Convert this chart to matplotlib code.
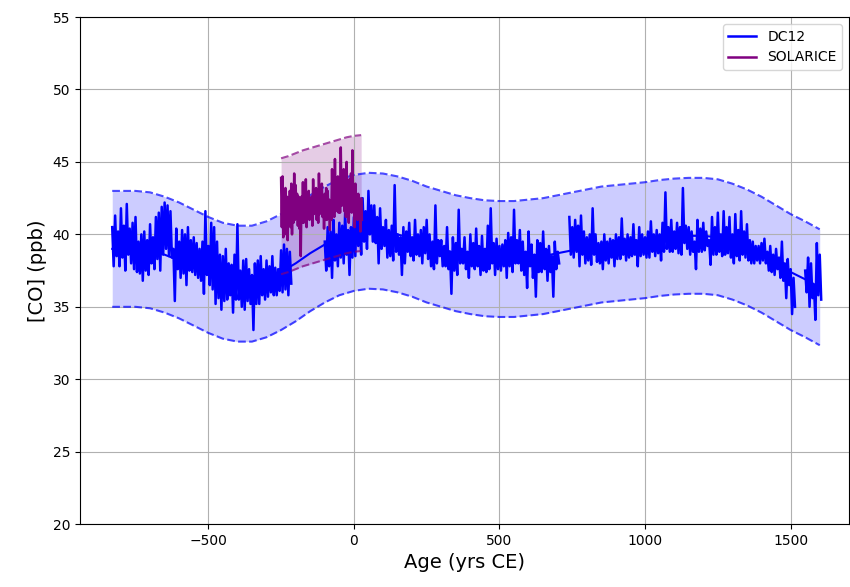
import numpy as np
import matplotlib
matplotlib.use("Agg")
import matplotlib.pyplot as plt

nan = np.nan

# DC12 record: upper / lower value within each decade, from -830 CE
dc12_years = np.arange(-830, 1601, 10)
dc12_hi = [
    40.5, 41.3, 40.2, 41.8, 40.6, 42.1, 40.4, 40.8, 41.2, 39.5,   # -830
    40.0, 40.2, 39.6, 40.7, 39.8, 41.2, 41.5, 41.9, 42.2, 42.0,   # -730
    41.6, 39.0, 40.4, 39.5, 40.3, 40.0, 40.5, 39.6, 39.8, 39.4,   # -630
    39.0, 39.5, 41.6, 39.2, 40.8, 40.5, 39.5, 38.6, 38.5, 39.0,   # -530
    38.0, 37.9, 38.6, 40.7, 37.5, 38.2, 38.3, 37.6, 37.2, 38.0,   # -430
    38.2, 38.5, 37.6, 38.2, 37.8, 38.5, 37.7, 37.6, 38.9, 39.3,   # -330
    39.0, 38.8, nan, nan, nan, nan, nan, nan, nan, nan,           # -230
    nan, nan, nan, 39.5, 40.5, 40.2, 41.0, 40.0, 40.8, 40.6,      # -130
    41.5, 40.3, 40.5, 41.2, 42.0, 41.0, 42.5, 41.6, 43.0, 42.0,   # -30
    42.0, 41.2, 41.8, 40.5, 41.0, 40.3, 40.6, 43.4, 40.0, 39.8,   # 70
    40.5, 40.2, 40.8, 39.8, 41.0, 40.0, 40.3, 40.5, 41.0, 40.0,   # 170
    39.5, 42.0, 39.6, 39.6, 39.2, 40.5, 38.8, 39.8, 39.4, 41.7,   # 270
    39.0, 39.8, 38.8, 40.0, 39.4, 40.4, 39.2, 39.9, 39.0, 40.6,   # 370
    41.8, 39.4, 39.7, 39.2, 39.3, 39.6, 40.1, 39.8, 41.7, 39.6,   # 470
    40.3, 39.5, 38.8, 40.2, 39.3, 38.6, 39.6, 39.4, 40.2, 39.0,   # 570
    39.2, 38.5, 39.5, 38.8, nan, nan, nan, 41.2, 40.5, 41.0,      # 670
    40.6, 41.3, 40.2, 39.8, 40.0, 41.8, 40.0, 39.4, 39.5, 40.0,   # 770
    39.5, 39.7, 39.6, 40.0, 39.8, 41.1, 39.7, 40.0, 39.8, 40.7,   # 870
    39.6, 40.5, 40.0, 39.8, 40.2, 40.9, 40.0, 40.3, 40.0, 40.8,   # 970
    42.9, 40.5, 41.0, 40.2, 40.8, 40.5, 43.2, 40.6, 40.5, 40.2,   # 1070
    39.5, 41.0, 40.4, 40.8, 40.2, 39.6, 41.2, 40.5, 41.5, 40.0,   # 1170
    41.6, 40.5, 41.2, 40.0, 41.4, 40.3, 41.6, 40.2, 40.7, 39.6,   # 1270
    39.5, 39.2, 39.2, 39.4, 39.7, 38.8, 39.2, 38.6, 39.0, 38.4,   # 1370
    39.5, 38.0, 38.3, 37.6, 37.0, nan, nan, nan, 37.5, 38.4,      # 1470
    38.0, 36.5, 39.4, 38.6,                                       # 1570
]
dc12_lo = [
    37.8, 38.5, 37.8, 38.4, 37.5, 38.6, 38.0, 37.6, 37.4, 37.3,   # -830
    36.8, 37.5, 37.2, 38.0, 37.6, 38.3, 37.5, 38.6, 39.0, 38.5,   # -730
    38.4, 35.4, 37.6, 37.0, 37.3, 36.5, 37.5, 37.4, 37.2, 37.0,   # -630
    36.8, 35.9, 37.2, 36.5, 36.2, 35.2, 35.6, 34.8, 35.4, 35.5,   # -530
    35.8, 34.6, 35.5, 35.5, 35.0, 34.8, 35.4, 35.2, 33.4, 35.2,   # -430
    35.2, 35.8, 35.5, 35.7, 36.0, 35.8, 35.8, 36.1, 36.0, 36.2,   # -330
    35.8, 36.6, nan, nan, nan, nan, nan, nan, nan, nan,           # -230
    nan, nan, nan, 37.5, 37.8, 37.0, 38.2, 37.8, 38.4, 38.0,      # -130
    38.6, 37.2, 38.4, 38.5, 39.2, 38.6, 39.5, 39.0, 40.0, 39.5,   # -30
    39.4, 38.0, 39.0, 39.2, 38.4, 38.5, 38.2, 38.8, 38.6, 37.2,   # 70
    38.0, 38.8, 38.5, 38.2, 38.6, 38.5, 38.0, 38.7, 38.3, 37.8,   # 170
    37.6, 38.0, 38.5, 37.8, 37.8, 37.6, 35.9, 37.5, 37.2, 38.0,   # 270
    38.0, 37.6, 37.0, 37.8, 37.6, 37.8, 37.2, 37.5, 37.4, 37.6,   # 370
    38.0, 37.2, 37.6, 37.5, 37.8, 37.0, 37.8, 37.4, 38.0, 38.0,   # 470
    37.5, 37.2, 36.3, 37.8, 37.0, 35.7, 37.4, 37.4, 37.6, 36.8,   # 570
    37.4, 35.7, 37.6, 38.0, nan, nan, nan, 38.6, 38.4, 38.8,      # 670
    37.8, 38.6, 38.0, 38.2, 37.9, 38.6, 38.1, 38.0, 37.6, 38.2,   # 770
    38.0, 38.4, 37.8, 38.3, 38.3, 38.6, 38.2, 38.4, 38.5, 38.6,   # 870
    37.8, 38.5, 38.6, 38.4, 38.4, 38.8, 38.5, 38.7, 38.2, 38.8,   # 970
    39.0, 38.8, 38.8, 39.0, 38.7, 38.6, 39.4, 39.0, 38.6, 38.8,   # 1070
    37.6, 38.8, 38.8, 38.9, 39.2, 37.9, 38.6, 38.6, 38.8, 38.5,   # 1170
    38.6, 38.7, 38.4, 38.0, 38.5, 38.2, 38.6, 38.4, 38.2, 38.0,   # 1270
    38.0, 38.2, 38.0, 38.2, 38.0, 37.5, 37.4, 37.2, 37.6, 37.0,   # 1370
    36.8, 35.6, 36.5, 34.5, 35.0, nan, nan, nan, 36.0, 35.0,      # 1470
    35.6, 34.1, 35.8, 35.5,                                       # 1570
]

# DC12 smooth fit (centre of the shaded band), +/- 4 ppb
fit_years = [-830, -750, -700, -650, -600, -550, -500, -450, -400, -350,
             -300, -250, -200, -150, -100, -50, 0, 50, 100, 150,
             200, 250, 300, 350, 400, 450, 500, 550, 600, 650,
             700, 750, 800, 850, 900, 950, 1000, 1050, 1100, 1150,
             1200, 1250, 1300, 1350, 1400, 1450, 1500, 1550, 1600]
fit_co = [39.0, 39.0, 38.9, 38.6, 38.2, 37.7, 37.2, 36.8, 36.6, 36.6,
          36.9, 37.4, 38.0, 38.7, 39.3, 39.8, 40.1, 40.25, 40.2, 40.0,
          39.7, 39.3, 39.0, 38.7, 38.5, 38.35, 38.3, 38.3, 38.4, 38.5,
          38.7, 38.9, 39.1, 39.3, 39.4, 39.5, 39.6, 39.75, 39.85, 39.9,
          39.9, 39.8, 39.5, 39.1, 38.6, 38.0, 37.4, 36.9, 36.35]
fit_err = 4.0

# SOLARICE record: upper / lower value within each 5 yr, from -250 CE
sol_years = np.arange(-250, 26, 5)
sol_hi = [
    43.9, 44.0, 43.0, 43.2, 42.6, 42.5, 43.0, 43.5,   # -250
    42.8, 44.2, 43.4, 42.8, 42.6, 42.0, 42.6, 43.6,   # -210
    42.3, 43.8, 42.8, 43.0, 42.4, 42.6, 43.8, 42.8,   # -170
    43.2, 42.5, 44.2, 43.0, 43.5, 42.6, 42.8, 43.2,   # -130
    43.0, 42.4, 42.0, 44.5, 43.0, 45.2, 43.2, 44.0,   # -90
    43.8, 46.0, 43.5, 44.5, 43.0, 45.0, 42.8, 43.8,   # -50
    44.2, 45.8, 43.0, 43.5, 42.4, 42.8, 42.0, 42.5,   # -10
]
sol_lo = [
    40.5, 39.8, 40.0, 40.2, 39.6, 40.6, 40.5, 40.0,   # -250
    40.8, 41.0, 41.2, 40.6, 40.4, 38.5, 40.8, 40.8,   # -210
    41.0, 40.5, 41.2, 41.0, 41.2, 40.6, 41.4, 41.5,   # -170
    41.0, 40.8, 41.4, 41.5, 41.2, 40.4, 41.0, 41.0,   # -130
    41.2, 40.3, 41.0, 41.5, 41.2, 41.6, 41.8, 41.5,   # -90
    41.5, 42.0, 42.0, 41.6, 41.2, 41.8, 40.8, 41.6,   # -50
    41.5, 42.0, 40.5, 41.5, 41.0, 41.2, 40.2, 41.0,   # -10
]
sol_fit_years = [-250, -225, -200, -175, -150, -125, -100, -75, -50, -25, 0, 25]
sol_fit_co = [41.25, 41.4, 41.6, 41.8, 41.95, 42.1, 42.25, 42.4, 42.55, 42.7, 42.8, 42.85]
sol_err = 4.0

fit_co = np.array(fit_co)
sol_fit_co = np.array(sol_fit_co)

# high then low, half a sampling step apart
dc12_x = np.column_stack((dc12_years, dc12_years + 5)).ravel()
dc12_y = np.column_stack((dc12_hi, dc12_lo)).ravel()
sol_x = np.column_stack((sol_years, sol_years + 2.5)).ravel()
sol_y = np.column_stack((sol_hi, sol_lo)).ravel()

fig = plt.figure(figsize=(8.5, 5.87), dpi=100)
ax = fig.add_axes([0.094, 0.107, 0.905, 0.864])

# DC12
ax.fill_between(fit_years, fit_co - fit_err, fit_co + fit_err, color='blue', alpha=0.2, lw=0)
ax.plot(fit_years, fit_co + fit_err, '--', color='blue', alpha=0.7, lw=1.5)
ax.plot(fit_years, fit_co - fit_err, '--', color='blue', alpha=0.7, lw=1.5)
ax.plot(fit_years, fit_co, color='blue', lw=1.5)
ax.plot(dc12_x, dc12_y, color='blue', lw=1.8, label='DC12')

# SOLARICE
ax.fill_between(sol_fit_years, sol_fit_co - sol_err, sol_fit_co + sol_err, color='purple', alpha=0.2, lw=0)
ax.plot(sol_fit_years, sol_fit_co + sol_err, '--', color='purple', alpha=0.7, lw=1.5)
ax.plot(sol_fit_years, sol_fit_co - sol_err, '--', color='purple', alpha=0.7, lw=1.5)
ax.plot(sol_x, sol_y, color='purple', lw=1.8, label='SOLARICE')

ax.set_xlim(-941, 1701)
ax.set_ylim(20, 55)
ax.grid(True)
ax.set_xlabel('Age (yrs CE)', fontsize=14)
ax.set_ylabel('[CO] (ppb)', fontsize=14)
ax.legend(loc='upper right')

fig.savefig('out.png', dpi=100)
